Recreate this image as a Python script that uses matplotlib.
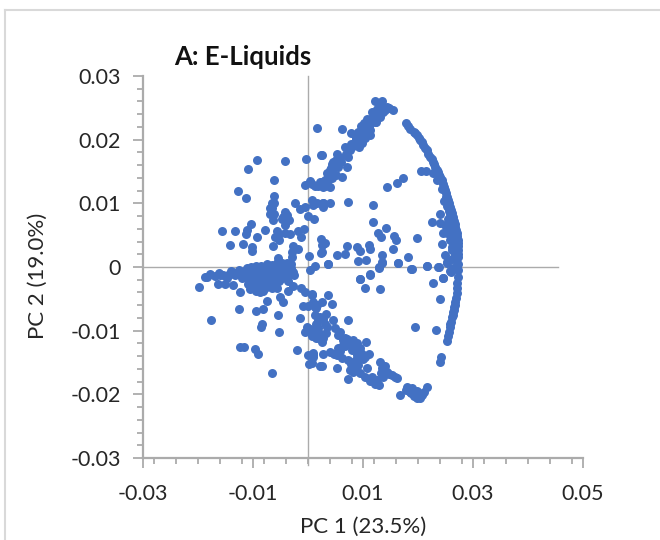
import matplotlib
matplotlib.use("Agg")
import matplotlib.pyplot as plt
from matplotlib.lines import Line2D
from matplotlib.ticker import MultipleLocator

plt.rcParams['font.family'] = ['Lato', 'DejaVu Sans']

title = "A: E-Liquids"
xlabel = "PC 1 (23.5%)"
ylabel = "PC 2 (19.0%)"
xticks = [-0.03, -0.01, 0.01, 0.03, 0.05]
yticks = [-0.03, -0.02, -0.01, 0, 0.01, 0.02, 0.03]
yticklabels = ["-0.03", "-0.02", "-0.01", "0", "0.01", "0.02", "0.03"]

# upper-left scatter
ul_x = [0.0016,0.0024,-0.0003,-0.0041,-0.0093,-0.0109,-0.0062,-0.0128,-0.0112,-0.0062,-0.0005,0.0004,0.0013,0.0022,0.0031,0.004,0.0044,
        -0.0066,-0.0069,-0.0062,-0.0069,-0.0062,-0.0064,-0.0024,-0.0015,-0.0005,0.0007,0.0016,0.0027,0.0027,0.004,-0.0042,-0.0039,-0.0048,-0.0034,-0.0042,
        0,0.0011,-0.0104,-0.0111,-0.0112,-0.0157,-0.0132,-0.0078,-0.0092,-0.0057,-0.006,-0.0033,-0.0042,-0.0018,-0.0007,-0.0013,0.0023,0.0031,0.0025,0.0023,
        -0.0142,-0.0118,-0.0101,-0.0101,-0.0063,-0.0028,-0.0018,-0.003,-0.003,-0.0055,0.0001,0.0013,0.0036,0.0004,
        0.0008,0.0018,0.0009,0.0034,-0.0066,-0.0045,-0.0052,-0.0053]
ul_y = [0.0219,0.0176,0.0169,0.0167,0.0168,0.0154,0.0137,0.0119,0.0109,0.0112,0.0129,0.0135,0.0127,0.0133,0.0127,0.0152,0.0162,
        0.01,0.0092,0.01,0.0084,0.0083,0.0074,0.0101,0.0091,0.0095,0.0105,0.0101,0.01,0.0094,0.01,0.0087,0.0082,0.0076,0.0074,0.0066,
        0.008,0.0075,0.0068,0.0058,0.0052,0.0056,0.0056,0.0058,0.0047,0.0057,0.0047,0.0052,0.0053,0.0057,0.0059,0.0047,0.0044,0.0037,0.0035,0.0022,
        0.0035,0.0036,0.0031,0.0025,0.0033,0.0033,0.0029,0.0024,0.0016,0.0014,0.0018,0.0002,0.0004,-0.0005,
        0.013,0.0128,0.0098,0.0134,0.0092,0.0078,0.0052,0.0042]

# dense cluster left of the origin
blob_x = [-0.0187,-0.0178,-0.0198,-0.0164,-0.0151,-0.0136,-0.0161,-0.0183,-0.017,-0.0155,-0.0148,-0.0142,-0.0128,-0.0115,
          -0.0075,-0.0056,-0.0038,-0.0047,-0.0031,-0.0085,-0.0066,-0.0095,-0.0104,-0.0042,-0.0034,
          -0.0111,-0.0093,-0.0075,-0.0056,-0.0038,-0.0031,-0.0125,-0.0102,-0.0084,-0.0066,-0.0047,-0.0028,
          -0.016,-0.0146,-0.0133,-0.012,-0.0109,-0.0096,-0.0084,-0.0072,-0.006,-0.0047,-0.0036,-0.0025,
          -0.0138,-0.0127,-0.0114,-0.0102,-0.009,-0.0078,-0.0066,-0.0054,-0.0042,-0.003,
          -0.012,-0.0109,-0.0096,-0.0084,-0.0072,-0.006,-0.0047,-0.0114,-0.0102,-0.009,-0.0078,-0.0066,-0.0054,-0.0042,
          -0.0109,-0.0096,-0.0084,-0.0072,-0.006,-0.0053,-0.0102,-0.009,-0.0078,-0.0066,
          -0.0103,-0.0091,-0.0078,-0.0066,-0.0056,-0.0087,-0.0105,-0.0125,-0.014,-0.0097,-0.0084,-0.0072,-0.0082,-0.0094]
blob_y = [-0.0015,-0.0011,-0.0032,-0.0026,-0.0027,-0.0028,-0.001,-0.0016,-0.0014,-0.0012,-0.0017,-0.0011,-0.0009,-0.0007,
          0.0005,0.0006,0.0006,0.0007,0.0004,0.0002,0.0003,0.0001,0,0.0003,0.0001,
          -0.0002,-0.0002,-0.0002,-0.0002,-0.0002,-0.0002,-0.0004,-0.0005,-0.0005,-0.0005,-0.0005,-0.0008,
          -0.0012,-0.0012,-0.0012,-0.0012,-0.0012,-0.0012,-0.0012,-0.0012,-0.0012,-0.0012,-0.0012,-0.0012,
          -0.0008,-0.0008,-0.0009,-0.0009,-0.0009,-0.0009,-0.0009,-0.0009,-0.0009,-0.0009,
          -0.0018,-0.0018,-0.0018,-0.0018,-0.0018,-0.0018,-0.0018,-0.0014,-0.0015,-0.0015,-0.0015,-0.0015,-0.0015,-0.0015,
          -0.0026,-0.0026,-0.0026,-0.0026,-0.0026,-0.0022,-0.0022,-0.0022,-0.0022,-0.0022,
          -0.0033,-0.0033,-0.0033,-0.0033,-0.0033,-0.0039,-0.0034,-0.0006,-0.0007,-0.003,-0.003,-0.003,-0.0038,-0.0037]

# lower-left scatter
ll_x = [-0.0124,-0.0125,-0.0177,-0.0095,-0.0082,-0.0075,-0.0055,-0.0083,-0.0086,-0.0053,-0.0124,-0.0116,-0.0096,-0.0091,-0.0065,-0.002,
        -0.0036,-0.0027,-0.0036,-0.0051,-0.0045,-0.0012,-0.0005,0.0007,-0.0009,0,0.0009,0.0014,-0.0015,-0.0002,-0.0005,0.0007,0.0018,0.0018,0.0018,
        0,0.0009,0.0009,0.0002,0.0022,0.0012,0.0014,0.0003,0.002]
ll_y = [-0.0039,-0.0066,-0.0084,-0.0069,-0.0066,-0.0053,-0.0076,-0.009,-0.0094,-0.0102,-0.0125,-0.0125,-0.0129,-0.0136,-0.0166,-0.013,
        -0.0022,-0.003,-0.0037,-0.0047,-0.0055,-0.0033,-0.0039,-0.0042,-0.0061,-0.0061,-0.0055,-0.0064,-0.008,-0.0094,-0.0102,-0.0102,-0.0083,-0.0096,-0.0112,
        -0.0138,-0.0135,-0.0141,-0.0152,-0.0156,-0.0075,-0.009,-0.0098,-0.0106]

# lower band
lb_x = [0.0036,0.0007,0.0013,0.0025,0.0044,0.0017,0.0022,0.0027,0.0016,0.0035,0.0045,0.0073,0.0008,0.0022,0.0027,0.0025,
        0.0049,0.0055,0.0064,0.0071,0.0082,0.0089,0.0105,0.0064,0.0055,0.004,0.0027,0.0009,0.0007,0.0025,0.0053,0.0073,
        0.008,0.0095,0.0089,0.0111,0.0104,0.0053,0.0062,0.0073,0.008,0.0091,0.0082,0.0095,0.0104,0.0113,0.0122,0.0129,0.0087,
        0.0131,0.0135,0.0136,0.0144,0.0153,0.0162,0.014,0.0148,0.0158,0.0133,
        0.0167,0.018,0.0189,0.0185,0.0195,0.0198,0.0207,0.0216,0.021,0.0178,0.0192,0.0203,0.0187,0.0199,
        0.0058,0.0068,0.0078,0.0086,0.0094,0.0067,0.0058,0.0047,0.0033,0.0085,0.0078,0.0088,0.0077,0.0088,0.01,0.0108,0.0117,0.0125,
        0.003,0.0014,0.002,0.0033,0.0098]
lb_y = [-0.0044,-0.0044,-0.0063,-0.0055,-0.0058,-0.006,-0.0079,-0.0082,-0.0096,-0.0094,-0.0083,-0.0083,-0.0108,-0.011,-0.0112,-0.0118,
        -0.0096,-0.0107,-0.0115,-0.0113,-0.0115,-0.012,-0.0118,-0.0123,-0.0127,-0.0133,-0.0137,-0.0138,-0.0151,-0.0156,-0.0159,-0.0176,
        -0.013,-0.0133,-0.0138,-0.0137,-0.0141,-0.0138,-0.0143,-0.0146,-0.0157,-0.0154,-0.0165,-0.0167,-0.0173,-0.0179,-0.0184,-0.0186,-0.0149,
        -0.0149,-0.0159,-0.0173,-0.0165,-0.017,-0.0174,-0.0155,-0.0168,-0.0172,-0.0166,
        -0.0201,-0.0188,-0.019,-0.0196,-0.0201,-0.0206,-0.0201,-0.0188,-0.0196,-0.0193,-0.0203,-0.0205,-0.0198,-0.0195,
        -0.0102,-0.0112,-0.0122,-0.0128,-0.0128,-0.0124,-0.0132,-0.0136,-0.0104,-0.0148,-0.0152,-0.016,-0.0162,-0.0146,-0.0145,-0.0158,-0.0172,-0.0178,
        -0.009,-0.0112,-0.0104,-0.0074,-0.0136]

# upper band
ub_x = [0.0122,0.0135,0.0131,0.0144,0.0155,0.0116,0.0127,0.0136,0.0125,0.0148,0.014,0.012,0.0131,0.0115,0.0124,
        0.0102,0.0113,0.0113,0.0122,0.0098,0.0091,0.0078,0.0062,0.0104,0.0098,0.0085,0.0076,0.0067,0.0073,0.0053,0.0058,0.0025,
        0.0045,0.0055,0.0071,0.0044,0.0062,0.0044,0.0025,0.004,0.0027,0.0108,0.0118,0.0088,0.0082,0.005,0.0035,
        0.0094,0.0106,0.011,0.0096,0.0088,0.0079,0.0069,0.006,0.005,0.0042,0.0037,0.0031,0.0103,0.0092,0.0112]
ub_y = [0.0261,0.0261,0.0254,0.0251,0.0247,0.0243,0.0239,0.0243,0.0248,0.0249,0.0246,0.0244,0.0235,0.0232,0.0228,
        0.0226,0.0226,0.0215,0.0228,0.0215,0.0212,0.021,0.0217,0.0203,0.0195,0.0195,0.0184,0.0188,0.0173,0.0177,0.0171,0.0176,
        0.0165,0.0157,0.0157,0.0152,0.0141,0.014,0.0133,0.0126,0.0126,0.0232,0.0235,0.0203,0.019,0.0145,0.0148,
        0.0206,0.0221,0.022,0.0222,0.0202,0.0193,0.0178,0.0165,0.0168,0.0156,0.0143,0.0137,0.0211,0.0188,0.0208]

# central / right scatter
mid_x = [0.0073,0.0027,0.0118,0.0118,0.0144,0.0162,0.0173,0.0205,0.0215,0.024,0.0225,0.024,0.0249,0.0245,0.0252,0.0142,0.0127,0.0133,0.0156,0.016,0.0198,
         0.0244,0.0155,0.0182,0.0249,0.0253,0.0071,0.0089,0.0095,0.0111,0.0113,0.0053,0.0067,0.0091,0.0105,0.0135,0.0135,0.0129,0.0113,0.0095,
         0.0164,0.0187,0.0216,0.0236,0.0258,0.0245,0.0036,0.0027,0.0025,0.0095,0.0113,0.0104,0.0131,0.0129,0.0135,0.0164,0.0189,0.0216,0.0238,0.0253,
         0.0227,0.0245,0.026,0.024,0.0195,0.0233,0.0253,0.0242,0.024]
mid_y = [0.0102,0.01,0.0097,0.0071,0.0126,0.0132,0.014,0.0151,0.0151,0.0083,0.0071,0.0069,0.0066,0.0053,0.0053,0.0061,0.0053,0.0047,0.0049,0.0042,0.0046,
         0.0036,0.0028,0.0016,0.0019,0.0008,0.0033,0.0031,0.0025,0.0035,0.0028,0.0019,0.002,0.0009,0.0011,0.0019,0.0008,0,-0.0013,-0.0019,
         0.0006,-0.0003,0.0002,0,-0.0006,-0.0017,0.0005,0.0036,0.0024,-0.0019,-0.0011,-0.0033,-0.0035,-0.0002,0.0006,0.0006,-0.0003,0.0002,0,0.0006,
         -0.0025,-0.0017,-0.0008,-0.005,-0.0094,-0.0099,-0.0116,-0.0141,-0.0149]

# arc
arc_x = [0.0178,0.0182,0.0185,0.0192,0.0195,0.0198,0.0201,0.0204,0.0207,0.0209,0.0213,0.0216,0.0219,0.0222,0.0225,0.0227,0.0229,0.0231,0.0234,0.0236,0.0238,0.024,
         0.0243,0.0245,0.0247,0.0249,0.0251,0.0253,0.0255,0.0256,0.0258,0.026,0.0262,0.0264,0.0265,0.0267,0.0268,0.0269,0.027,0.0271,0.0272,0.0272,0.0273,0.0273,0.0273,
         0.0273,0.0273,0.0272,0.0272,0.0271,0.0271,0.027,0.0269,0.0268,0.0267,0.0266,0.0265,0.0264,0.0263,0.0262,0.026,0.0259,0.0258,0.0256,0.0255,
         0.0243,0.025,0.0255,0.0258,0.026,0.0255,0.0262,0.0263,0.0265,0.0267,0.0268,0.0262,0.0262,0.0235,0.0228,
         0.0248,0.0252,0.0256,0.0259,0.0261,0.0264,0.0265,0.0266,0.0263,0.0258,0.0262,0.0258,0.0261,0.0265,0.0264]
arc_y = [0.0226,0.0221,0.0217,0.0212,0.021,0.0207,0.0203,0.02,0.0196,0.0192,0.0187,0.0183,0.0178,0.0173,0.0169,0.0165,0.0161,0.0157,0.0153,0.0149,0.0145,0.0141,
         0.0136,0.0131,0.0126,0.0121,0.0116,0.011,0.0105,0.01,0.0095,0.009,0.0085,0.0079,0.0073,0.0068,0.0063,0.0058,0.0053,0.0048,0.0043,0.0038,0.0033,0.0027,0.0021,
         0.0016,0.0005,-0.0005,-0.0015,-0.0025,-0.0033,-0.0041,-0.0048,-0.0055,-0.0059,-0.0063,-0.0067,-0.0071,-0.0075,-0.0079,-0.0086,-0.009,-0.0094,-0.0102,-0.0108,
         0.0122,0.011,0.0095,0.0085,0.007,0.0075,0.006,0.005,0.004,0.003,0.002,0.0045,0.0032,0.0136,0.0148,
         0.0104,0.0096,0.0088,0.008,0.0066,0.0055,0.0047,0.0033,0.0036,0.0058,0.0026,0.0042,0.0012,0.0012,-0.0002]

groups = [(ul_x, ul_y), (blob_x, blob_y), (ll_x, ll_y), (lb_x, lb_y),
          (ub_x, ub_y), (mid_x, mid_y), (arc_x, arc_y)]

W, H = 660, 540
fig = plt.figure(figsize=(6.6, 5.4), dpi=100)
ax = fig.add_axes([143/W, 1-458/H, 440/W, 382/H])

GRAY = "#ABABAB"
TXT = "#262626"
ax.set_xlim(-0.03, 0.05)
ax.set_ylim(-0.03, 0.03)
ax.axvline(0, color=GRAY, lw=1.0, zorder=1, ymin=-0.018, clip_on=False)
ax.axhline(0, color=GRAY, lw=1.0, zorder=1, xmax=0.943)

for gx, gy in groups:
    ax.scatter(gx, gy, s=42, color="#4371C3", linewidths=0, zorder=3, clip_on=False)

for s in ("top", "right"):
    ax.spines[s].set_visible(False)
for s in ("left", "bottom"):
    ax.spines[s].set_color(GRAY)
    ax.spines[s].set_linewidth(1.6)

ax.set_xticks(xticks)
ax.set_xticklabels([f"{v:.2f}" for v in xticks])
ax.set_yticks(yticks)
ax.set_yticklabels(yticklabels)
ax.xaxis.set_minor_locator(MultipleLocator(0.004))
ax.yaxis.set_minor_locator(MultipleLocator(0.002))
ax.tick_params(which="major", length=7, width=1.3, color=GRAY, labelsize=15.5, labelcolor=TXT, pad=9)
ax.tick_params(which="minor", length=4, width=1.3, color=GRAY)
ax.tick_params(axis="x", which="major", pad=12)

fig.text(174/W, 1-57/H, title, fontsize=18.5, fontweight="bold", color="#111111", ha="left", va="center")
fig.text(363/W, 1-527/H, xlabel, fontsize=16, color=TXT, ha="center", va="center")
fig.text(38/W, 1-276/H, ylabel, fontsize=16, color=TXT, ha="center", va="center", rotation=90)

# chart-area border
fig.add_artist(Line2D([5/W, 5/W], [0, 1-10/H], color="#D9D9D9", lw=1.5))
fig.add_artist(Line2D([5/W, 1], [1-10/H, 1-10/H], color="#D9D9D9", lw=1.5))

fig.savefig("out.png", dpi=100)
